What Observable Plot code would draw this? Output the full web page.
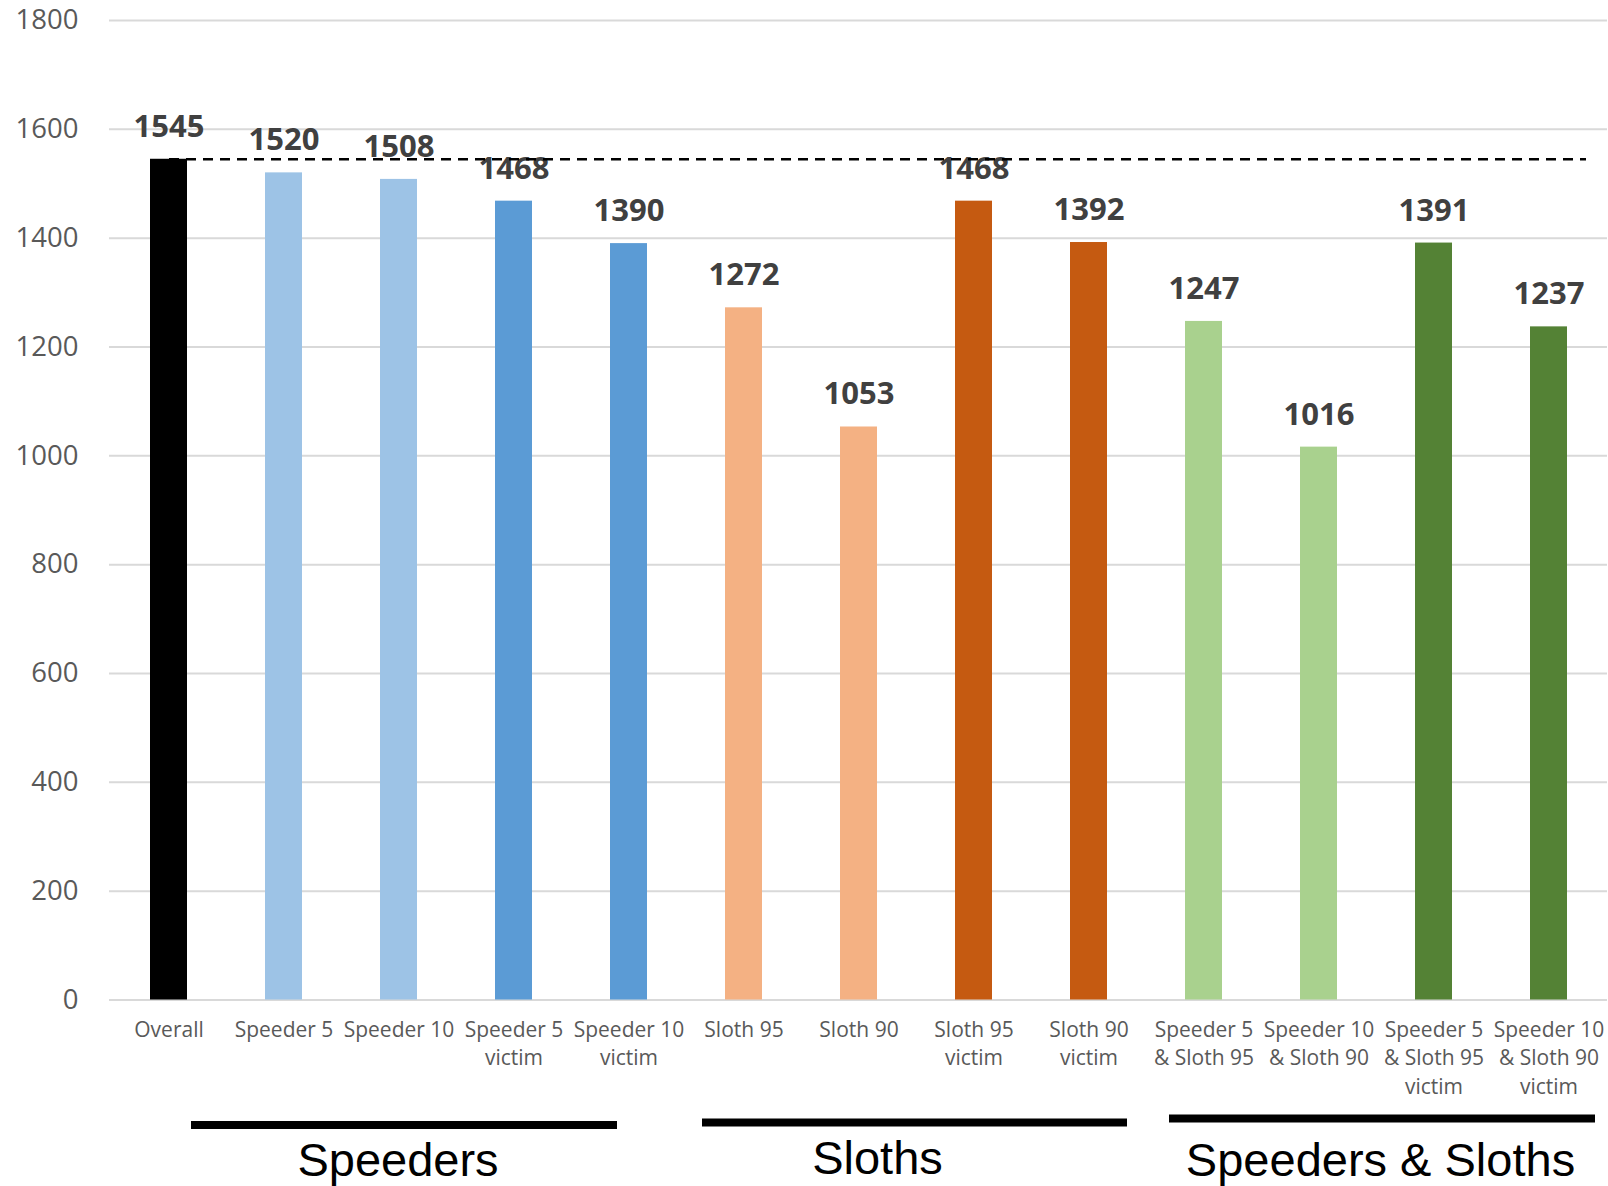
<!DOCTYPE html>
<html>
<head>
<meta charset="utf-8">
<script src="https://cdn.jsdelivr.net/npm/d3@7"></script>
<script src="https://cdn.jsdelivr.net/npm/@observablehq/plot@0.6"></script>
<style>
  body { margin: 0; background: #ffffff; }
  #chart svg { display: block; }
</style>
</head>
<body>
<div id="chart"></div>
<script>
// Scenario names, one bar each
const categories = [
  "Overall",
  "Speeder 5", "Speeder 10", "Speeder 5 victim", "Speeder 10 victim",
  "Sloth 95", "Sloth 90", "Sloth 95 victim", "Sloth 90 victim",
  "Speeder 5 & Sloth 95", "Speeder 10 & Sloth 90",
  "Speeder 5 & Sloth 95 victim", "Speeder 10 & Sloth 90 victim"
];

// Axis labels, wrapped onto lines
const tickLabels = [
  "Overall",
  "Speeder 5", "Speeder 10", "Speeder 5\nvictim", "Speeder 10\nvictim",
  "Sloth 95", "Sloth 90", "Sloth 95\nvictim", "Sloth 90\nvictim",
  "Speeder 5\n& Sloth 95", "Speeder 10\n& Sloth 90",
  "Speeder 5\n& Sloth 95\nvictim", "Speeder 10\n& Sloth 90\nvictim"
];

const values = [1545, 1520, 1508, 1468, 1390, 1272, 1053, 1468, 1392, 1247, 1016, 1391, 1237];

const barColors = [
  "#000000",
  "#9dc3e6", "#9dc3e6", "#5b9bd5", "#5b9bd5",
  "#f4b183", "#f4b183", "#c55a11", "#c55a11",
  "#a9d18e", "#a9d18e", "#548235", "#548235"
];

const yTicks = [0, 200, 400, 600, 800, 1000, 1200, 1400, 1600, 1800];

// Groups shown beneath the axis
const groupNames = ["Speeders", "Sloths", "Speeders & Sloths"];
const groupFirst = ["Speeder 5", "Sloth 95", "Speeder 5 & Sloth 95"];
const groupLast = ["Speeder 10 victim", "Sloth 90 victim", "Speeder 10 & Sloth 90 victim"];
const groupMiddle = ["Speeder 10", "Sloth 90", "Speeder 10 & Sloth 90"];

const data = categories.map((category, i) => ({category, value: values[i]}));
const reference = [{value: values[0], from: categories[0], to: categories[categories.length - 1]}];
const groups = groupNames.map((name, i) => ({name, first: groupFirst[i], last: groupLast[i], middle: groupMiddle[i], y: 0}));

// Per-group placement of the bracket line and its caption
const groupStyle = [
  {insetLeft: -74, insetRight: 30, ruleDy: 125, textDx: -1, textDy: 175.5},
  {insetLeft: -23, insetRight: -20, ruleDy: 122.5, textDx: 18.5, textDy: 174},
  {insetLeft: -16, insetRight: -28, ruleDy: 118.5, textDx: 61.5, textDy: 175.5}
];

const groupMarks = groups.flatMap((g, i) => {
  const s = groupStyle[i];
  return [
    Plot.ruleY([g], {
      x1: "first", x2: "last", y: "y", dy: s.ruleDy,
      insetLeft: s.insetLeft, insetRight: s.insetRight,
      stroke: "#000000", strokeWidth: 7.8
    }),
    Plot.text([g], {
      x: "middle", y: "y", text: "name", dx: s.textDx, dy: s.textDy,
      lineAnchor: "bottom", fontSize: 47, fill: "#000000",
      fontFamily: "'Liberation Sans', Arial, sans-serif"
    })
  ];
});

const chart = Plot.plot({
  width: 1608,
  height: 1186,
  marginTop: 20,
  marginBottom: 186.5,
  marginLeft: 109,
  marginRight: 1,
  style: {fontFamily: "'Open Sans', sans-serif", background: "#ffffff", overflow: "visible"},
  x: {domain: categories, paddingInner: 0.68, paddingOuter: 0.34},
  y: {domain: [0, 1800]},
  color: {domain: categories, range: barColors},
  marks: [
    Plot.gridY(yTicks, {stroke: "#d9d9d9", strokeOpacity: 1, strokeWidth: 2}),
    Plot.axisY(yTicks, {
      tickSize: 0, tickPadding: 31, fontSize: 27.5, color: "#595959", label: null,
      tickFormat: (d) => String(d)
    }),
    Plot.axisX({
      tickSize: 0, tickPadding: 17, fontSize: 21, lineHeight: 1.35,
      color: "#595959", label: null,
      tickFormat: (c) => tickLabels[categories.indexOf(c)]
    }),
    Plot.barY(data, {x: "category", y: "value", fill: "category"}),
    Plot.text(data, {
      x: "category", y: "value", text: (d) => String(d.value),
      dy: -22.5, lineAnchor: "bottom", fontSize: 31, fontWeight: "bold", fill: "#404040"
    }),
    Plot.ruleY(reference, {
      x1: "from", x2: "to", y: "value", insetLeft: 19, insetRight: -19,
      stroke: "#000000", strokeWidth: 2.6, strokeDasharray: "10,7"
    }),
    ...groupMarks
  ]
});

document.getElementById("chart").append(chart);
</script>
</body>
</html>
